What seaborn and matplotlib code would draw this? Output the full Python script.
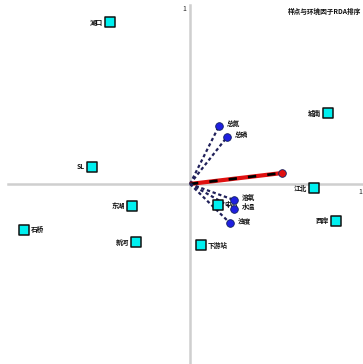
import matplotlib
matplotlib.use("Agg")
import matplotlib.pyplot as plt
import seaborn as sns
import pandas as pd

# Sample sites (ordination scores)
site_names = ["湖口", "SL", "城南", "东湖", "石桥", "新河", "江北", "西岸", "下游站", "中心"]
site_x = [-0.471, -0.576, 0.812, -0.341, -0.976, -0.318, 0.729, 0.859, 0.065, 0.165]
site_y = [0.920, 0.097, 0.403, -0.125, -0.261, -0.330, -0.023, -0.210, -0.347, -0.119]
site_label_side = ["left", "left", "left", "left", "right", "left", "left", "left", "right", "right"]

# Environmental factor vectors
env_names = ["总氮", "总磷", "", "溶氧", "水温", "浊度"]
env_x = [0.171, 0.218, 0.540, 0.259, 0.259, 0.235]
env_y = [0.330, 0.267, 0.062, -0.091, -0.142, -0.222]
env_colors = ["#1f1fe0", "#1f1fe0", "#e01010", "#1f1fe0", "#1f1fe0", "#1f1fe0"]

title_text = "样点与环境因子RDA排序"
axis_tick = 1.0

sns.set_theme(style="white")
plt.rcParams["font.family"] = ["Noto Sans CJK SC", "DejaVu Sans"]

W, H = 363, 364
fig = plt.figure(figsize=(W / 100, H / 100), dpi=100)
ax = fig.add_axes([8 / W, 0, 1 - 8 / W, 1 - 5 / H])
ax.set_xlim(-1.071, 1.018)
ax.set_ylim(-1.023, 1.017)

# Axes through the origin
for side in ["top", "right"]:
    ax.spines[side].set_visible(False)
for side in ["left", "bottom"]:
    ax.spines[side].set_position("zero")
    ax.spines[side].set_color("#cfcfcf")
    ax.spines[side].set_linewidth(1.8)
ax.set_xticks([axis_tick])
ax.set_yticks([axis_tick])
ax.set_xticklabels([f"{axis_tick:g}"])
ax.set_yticklabels([f"{axis_tick:g}"])
ax.tick_params(length=0, labelsize=5, pad=3, colors="#222222")

# Environmental vectors
for nx, ny, c, name in zip(env_x, env_y, env_colors, env_names):
    if c == "#e01010":
        ax.plot([0, nx], [0, ny], color=c, lw=3.0, solid_capstyle="butt", zorder=3)
        ax.plot([0, nx], [0, ny], color="black", lw=2.0, dashes=(3, 4), zorder=3)
    else:
        ax.plot([0, nx], [0, ny], color="#20205a", lw=1.6, dashes=(1.5, 1.2), zorder=3)
    ax.plot([nx], [ny], marker="o", ms=5.5, color=c, mec="#102060", mew=0.6, zorder=4)
    if name:
        ax.text(nx + 0.045, ny + 0.015, name, fontsize=4.8, color="#111111",
                fontweight="bold", ha="left", va="center", zorder=5)

# Sites
df = pd.DataFrame({"x": site_x, "y": site_y, "name": site_names})
sns.scatterplot(data=df, x="x", y="y", marker="s", s=48, color="#00f0f0",
                edgecolor="#111111", linewidth=1.1, ax=ax, zorder=6, legend=False)
for nx, ny, name, side in zip(site_x, site_y, site_names, site_label_side):
    if side == "left":
        ax.text(nx - 0.04, ny, name, fontsize=4.8, ha="right", va="center",
                color="#111111", fontweight="bold")
    else:
        ax.text(nx + 0.04, ny, name, fontsize=4.8, ha="left", va="center",
                color="#111111", fontweight="bold")

ax.set_xlabel("")
ax.set_ylabel("")
fig.text(0.995, 1 - 11 / H, title_text, fontsize=4.8, ha="right", va="center",
         color="#111111", fontweight="bold")

fig.savefig("out.png", dpi=100)
